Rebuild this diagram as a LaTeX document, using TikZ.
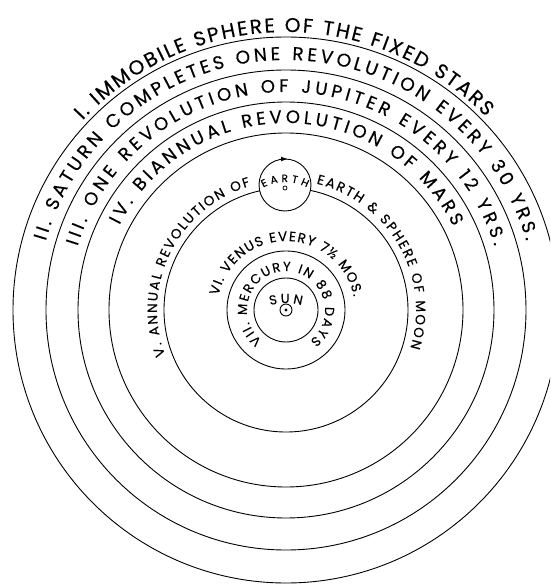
\documentclass[tikz,border=0pt]{standalone}
\usepackage{fontspec}
\setmainfont{Poppins}[FakeBold=0.35]
\usetikzlibrary{decorations.text}
\tikzset{
  orbit/.style={draw=black, line width=0.9pt},
}
% #1 font size, #2 start angle, #3 end angle, #4 baseline radius, #5 text
\newcommand\ringlabel[5]{%
  \path[decorate, decoration={text along path,
      text={|\fontsize{#1}{#1}\selectfont|#5},
      text align={fit to path}}]
    (#2:#4) arc[start angle=#2, end angle=#3, radius=#4];}
\begin{document}
\begin{tikzpicture}[x=1pt,y=1pt]
\useasboundingbox (-286,-276) rectangle (264,310);
\clip (-286,-276) rectangle (264,310);
\fill[white] (-286,-276) rectangle (264,310);
\coordinate (sun) at (0,0);
% orbits
\draw[orbit] (sun) circle[radius=273];
\draw[orbit] (sun) circle[radius=240];
\draw[orbit] (sun) circle[radius=208];
\draw[orbit] (sun) circle[radius=177];
\draw[orbit] (sun) circle[radius=122];
\draw[orbit] (sun) circle[radius=59];
\draw[orbit] (sun) circle[radius=32];
% sun symbol
\draw[line width=0.9pt] (sun) circle[radius=6];
\fill (sun) circle[radius=1.7];
% labels
\ringlabel{20}{137}{44}{278}{I. IMMOBILE SPHERE OF THE FIXED STARS}
\ringlabel{18.5}{164}{16}{250}{II. SATURN COMPLETES ONE REVOLUTION EVERY 30 YRS.}
\ringlabel{18}{163}{17}{218}{III. ONE REVOLUTION OF JUPITER EVERY 12 YRS.}
\ringlabel{18}{153}{26.5}{187}{IV. BIANNUAL REVOLUTION OF MARS}
\ringlabel{13.5}{200.5}{106}{129}{V. ANNUAL REVOLUTION OF}
\ringlabel{13.5}{76.5}{-17}{130}{EARTH {\&} SPHERE OF MOON}
\ringlabel{13.5}{168}{11}{69}{VI. VENUS EVERY 7½ MOS.}
\ringlabel{13}{232}{-52}{39}{VII. MERCURY IN 88 DAYS}
% sun label
\begin{scope}[shift={(0,-50)}]
\ringlabel{13}{106}{74}{57}{SUN}
\end{scope}
% earth
\node[circle, draw=black, fill=white, line width=0.9pt, minimum size=52pt, inner sep=0pt] (earth) at (-1,125) {};
\draw[line width=0.7pt] (-1,122) circle[radius=2];
\fill (-5,153.3) -- (1,151) -- (-5,148.7) -- cycle;
\begin{scope}[shift={(-1,83)}]
\ringlabel{10.5}{119}{61}{45}{EARTH}
\end{scope}
\end{tikzpicture}
\end{document}
